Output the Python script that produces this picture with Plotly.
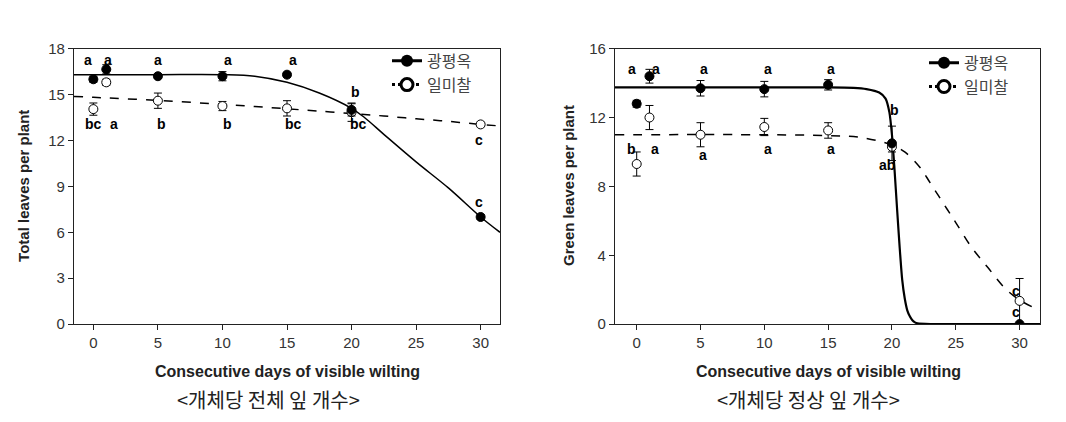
import plotly.graph_objects as go

# measured days
days = [0, 1, 5, 10, 15, 20, 30]

# left panel: total leaves per plant
total_gpo = [16.0, 16.65, 16.2, 16.2, 16.3, 14.0, 7.0]
total_gpo_err = [0.2, 0.3, 0.15, 0.3, 0.15, 0.4, 0.15]
total_ilm = [14.05, 15.8, 14.6, 14.25, 14.1, 13.85, 13.05]
total_ilm_err = [0.4, 0.2, 0.5, 0.3, 0.5, 0.6, 0.15]

# fitted curves
fit_x_total = [-1.5, 0, 5, 10, 12.5, 15, 17.5, 20, 21, 22.5, 25, 27.5, 30, 31.5]
fit_total_gpo = [16.3, 16.3, 16.3, 16.3, 16.2, 15.8, 15.1, 14.1, 13.5, 12.4, 10.6, 8.9, 7.0, 6.0]
fit_total_ilm = [14.88, 14.82, 14.62, 14.36, 14.22, 14.07, 13.92, 13.76, 13.7, 13.6, 13.42, 13.25, 13.05, 12.95]

# right panel: green leaves per plant
green_gpo = [12.8, 14.4, 13.7, 13.65, 13.9, 10.5, 0.0]
green_gpo_err = [0.2, 0.4, 0.45, 0.45, 0.3, 1.0, 0.0]
green_ilm = [9.3, 12.0, 11.0, 11.45, 11.25, 10.3, 1.35]
green_ilm_err = [0.7, 0.7, 0.7, 0.5, 0.45, 0.3, 1.3]

fit_x_green_gpo = [-1.7, 0, 10, 15, 17, 18, 19, 19.5, 19.8, 20, 20.2, 20.4, 20.6, 20.8, 21.0, 21.2, 21.4, 21.6, 21.8, 22, 23, 25, 31.6]
fit_green_gpo = [13.75, 13.75, 13.75, 13.75, 13.72, 13.65, 13.45, 13.1, 12.3, 11.0, 9.0, 6.7, 4.5, 2.6, 1.5, 0.8, 0.45, 0.22, 0.1, 0.04, 0.0, 0.0, 0.0]
fit_x_green_ilm = [-1.7, 10, 15, 17.5, 20, 21, 22.2, 23, 24.3, 25, 26.2, 27.5, 28.9, 30, 31.6]
fit_green_ilm = [11.0, 11.0, 10.95, 10.85, 10.4, 10.0, 9.1, 8.2, 6.7, 5.9, 4.5, 3.3, 2.05, 1.4, 0.78]

cultivars = ['광평옥', '일미찰']

# significance letters: (x, y, text)
letters_total = [
    (-0.4, 17.25, 'a'), (1.1, 17.25, 'a'), (5, 17.25, 'a'), (10.4, 17.25, 'a'), (15.5, 17.25, 'a'),
    (20.3, 15.2, 'b'),
    (0, 13.1, 'bc'), (1.6, 13.1, 'a'), (5.3, 13.1, 'b'), (10.4, 13.1, 'b'), (15.5, 13.1, 'bc'),
    (20.5, 13.1, 'bc'), (29.9, 12.05, 'c'), (29.9, 7.95, 'c'),
]
letters_green = [
    (-0.35, 14.8, 'a'), (1.5, 14.8, 'a'), (5.3, 14.8, 'a'), (10.3, 14.8, 'a'), (15.2, 14.8, 'a'),
    (20.2, 12.45, 'b'),
    (-0.4, 10.2, 'b'), (1.4, 10.2, 'a'), (5.2, 9.8, 'a'), (10.3, 10.2, 'a'), (15.2, 10.2, 'a'),
    (19.6, 9.25, 'ab'), (29.7, 1.95, 'c'), (29.7, 0.7, 'c'),
]

FONT = 'Arial, Liberation Sans, sans-serif'
KFONT = 'Noto Sans CJK KR, sans-serif'

fig = go.Figure()

def add_panel(fig, xa, ya, legend, fx1, fy1, fx2, fy2, y1, e1, y2, e2, thick, smooth1):
    fig.add_trace(go.Scatter(x=fx2, y=fy2, mode='lines', xaxis=xa, yaxis=ya,
                             line=dict(color='black', width=1.5, dash='dash', shape='spline', smoothing=1),
                             showlegend=False, hoverinfo='skip'))
    fig.add_trace(go.Scatter(x=fx1, y=fy1, mode='lines', xaxis=xa, yaxis=ya,
                             line=dict(color='black', width=thick, shape='spline', smoothing=smooth1),
                             showlegend=False, hoverinfo='skip'))
    fig.add_trace(go.Scatter(x=days, y=y2, mode='markers', xaxis=xa, yaxis=ya,
                             error_y=dict(type='data', array=e2, color='black', thickness=1, width=4),
                             marker=dict(size=9, color='white', line=dict(color='black', width=1)),
                             showlegend=False))
    fig.add_trace(go.Scatter(x=days, y=y1, mode='markers', xaxis=xa, yaxis=ya,
                             error_y=dict(type='data', array=e1, color='black', thickness=1, width=4),
                             marker=dict(size=9, color='black', line=dict(color='black', width=1)),
                             showlegend=False))
    # legend-only entries
    fig.add_trace(go.Scatter(x=[None], y=[None], mode='lines+markers', xaxis=xa, yaxis=ya,
                             name=cultivars[0], legend=legend,
                             line=dict(color='black', width=3),
                             marker=dict(size=12, color='black')))
    fig.add_trace(go.Scatter(x=[None], y=[None], mode='lines+markers', xaxis=xa, yaxis=ya,
                             name=cultivars[1], legend=legend,
                             line=dict(color='black', width=3, dash='dot'),
                             marker=dict(size=12, color='white', line=dict(color='black', width=3))))

add_panel(fig, 'x', 'y', 'legend', fit_x_total, fit_total_gpo, fit_x_total, fit_total_ilm,
          total_gpo, total_gpo_err, total_ilm, total_ilm_err, 1.5, 1)
add_panel(fig, 'x2', 'y2', 'legend2', fit_x_green_gpo, fit_green_gpo, fit_x_green_ilm, fit_green_ilm,
          green_gpo, green_gpo_err, green_ilm, green_ilm_err, 2.2, 0.6)

annotations = []
for xx, yy, t in letters_total:
    annotations.append(dict(x=xx, y=yy, xref='x', yref='y', text='<b>%s</b>' % t, showarrow=False,
                            font=dict(family=FONT, size=14, color='black')))
for xx, yy, t in letters_green:
    annotations.append(dict(x=xx, y=yy, xref='x2', yref='y2', text='<b>%s</b>' % t, showarrow=False,
                            font=dict(family=FONT, size=14, color='black')))
for cx, txt in [(260, '<개체당 전체 잎 개수>'), (800, '<개체당 정상 잎 개수>')]:
    annotations.append(dict(x=cx / 1066, y=1 - 399 / 422, xref='paper', yref='paper', text=txt,
                            xanchor='center', yanchor='middle',
                            showarrow=False, font=dict(family=KFONT, size=20, color='#222')))
for cx, txt in [(279, 'Consecutive days of visible wilting'), (820, 'Consecutive days of visible wilting')]:
    annotations.append(dict(x=cx / 1066, y=1 - 369 / 422, xref='paper', yref='paper', text='<b>%s</b>' % txt,
                            xanchor='center', yanchor='middle',
                            showarrow=False, font=dict(family=FONT, size=16, color='#222')))
for cx, txt in [(16, 'Total leaves per plant'), (561, 'Green leaves per plant')]:
    annotations.append(dict(x=cx / 1066, y=1 - 176 / 422, xref='paper', yref='paper', text='<b>%s</b>' % txt,
                            xanchor='center', yanchor='middle',
                            textangle=-90, showarrow=False, font=dict(family=FONT, size=15, color='#222')))

axis_common = dict(showgrid=False, zeroline=False, showline=True, linecolor='#222', linewidth=1.2,
                   mirror=True, ticks='outside', ticklen=5, tickcolor='#222',
                   tickfont=dict(family=FONT, size=15, color='#333'))

fig.update_layout(
    width=1066, height=422,
    margin=dict(l=0, r=0, t=0, b=0),
    plot_bgcolor='white', paper_bgcolor='white',
    xaxis=dict(domain=[66 / 1066, 492 / 1066], range=[-1.5, 31.5], tickvals=[0, 5, 10, 15, 20, 25, 30],
               anchor='y', **axis_common),
    yaxis=dict(domain=[1 - 320 / 422, 1 - 33 / 422], range=[0, 18], tickvals=[0, 3, 6, 9, 12, 15, 18],
               anchor='x', **axis_common),
    xaxis2=dict(domain=[607 / 1066, 1032 / 1066], range=[-1.7, 31.6], tickvals=[0, 5, 10, 15, 20, 25, 30],
                anchor='y2', **axis_common),
    yaxis2=dict(domain=[1 - 320 / 422, 1 - 33 / 422], range=[0, 16], tickvals=[0, 4, 8, 12, 16],
                anchor='x2', **axis_common),
    legend=dict(x=379 / 1066, y=1 - 28 / 422, xanchor='left', yanchor='top', bgcolor='rgba(0,0,0,0)',
                font=dict(family=KFONT, size=16, color='#444'), itemwidth=30, tracegroupgap=0),
    legend2=dict(x=916 / 1066, y=1 - 30 / 422, xanchor='left', yanchor='top', bgcolor='rgba(0,0,0,0)',
                 font=dict(family=KFONT, size=16, color='#444'), itemwidth=30, tracegroupgap=0),
    annotations=annotations,
    showlegend=True,
)

fig.write_html("out.html")
